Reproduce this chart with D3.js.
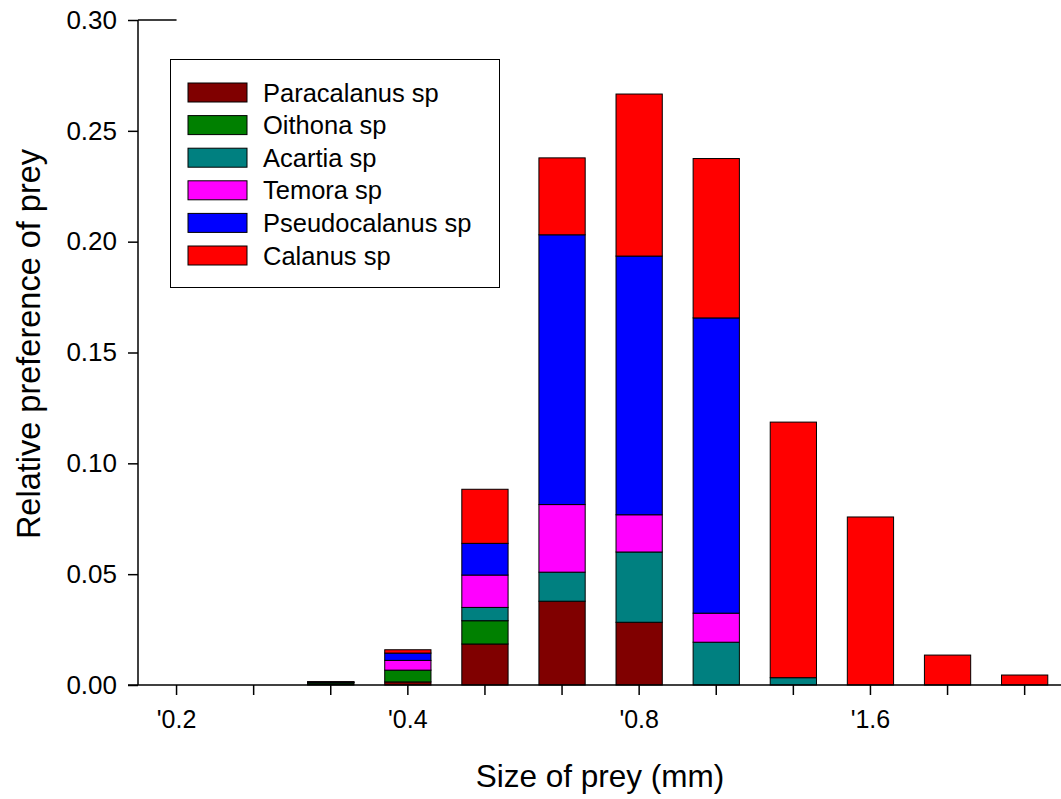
<!DOCTYPE html>
<html>
<head>
<meta charset="utf-8">
<script src="https://cdn.jsdelivr.net/npm/d3@7"></script>
<style>
  html, body { margin: 0; padding: 0; background: #fff; }
  svg { display: block; font-family: Arial, "Liberation Sans", Helvetica, sans-serif; }
</style>
</head>
<body>
<svg id="chart" width="1061" height="799"></svg>
<script>
// Prey size classes (mm), log2 spaced, three classes per doubling
const sizes = ["0.20", "0.25", "0.32", "0.40", "0.50", "0.63", "0.80", "1.0", "1.3", "1.6", "2.0", "2.5"];
const tickLabels = ["'0.2", "", "", "'0.4", "", "", "'0.8", "", "", "'1.6", "", ""];
const yTicks = [0, 0.05, 0.10, 0.15, 0.20, 0.25, 0.30];

const speciesNames = ["Paracalanus sp", "Oithona sp", "Acartia sp", "Temora sp", "Pseudocalanus sp", "Calanus sp"];
const speciesColors = ["#800000", "#008000", "#008080", "#ff00ff", "#0000ff", "#ff0000"];

// Relative preference of each prey genus per size class
const paracalanus   = [0, 0, 0.0004, 0.0014, 0.0185, 0.0378, 0.0283, 0,      0,      0,      0,      0];
const oithona       = [0, 0, 0.0006, 0.0053, 0.0105, 0,      0,      0,      0,      0,      0,      0];
const acartia       = [0, 0, 0.0001, 0,      0.0060, 0.0131, 0.0317, 0.0193, 0.0033, 0,      0,      0];
const temora        = [0, 0, 0.0002, 0.0044, 0.0146, 0.0305, 0.0168, 0.0131, 0,      0,      0,      0];
const pseudocalanus = [0, 0, 0.0001, 0.0033, 0.0143, 0.1217, 0.1167, 0.1332, 0,      0,      0,      0];
const calanus       = [0, 0, 0.0001, 0.0015, 0.0244, 0.0347, 0.0731, 0.0719, 0.1153, 0.0758, 0.0135, 0.0045];

const seriesValues = [paracalanus, oithona, acartia, temora, pseudocalanus, calanus];

const svg = d3.select("#chart");
const plotLeft = 138, plotRight = 1063.2, plotTop = 20, plotBottom = 685;

const x = d3.scaleBand().domain(sizes).range([plotLeft, plotRight]).paddingInner(0.4).paddingOuter(0.2);
const y = d3.scaleLinear().domain([0, 0.30]).range([plotBottom, plotTop]);

// Build rows for the stack
const rows = sizes.map((s, i) => {
  const r = { size: s };
  speciesNames.forEach((n, k) => { r[n] = seriesValues[k][i]; });
  return r;
});
const stacked = d3.stack().keys(speciesNames)(rows);

// Stacked bars
const layers = svg.append("g").selectAll("g")
  .data(stacked)
  .join("g")
  .attr("fill", (d, k) => speciesColors[k]);

layers.selectAll("rect")
  .data(d => d.filter(p => p[1] - p[0] > 0))
  .join("rect")
  .attr("x", p => x(p.data.size))
  .attr("width", x.bandwidth())
  .attr("y", p => y(p[1]))
  .attr("height", p => y(p[0]) - y(p[1]))
  .attr("stroke", "#000")
  .attr("stroke-width", 1);

// Y axis
const yAxis = svg.append("g")
  .attr("transform", `translate(${plotLeft},0)`)
  .call(d3.axisLeft(y).tickValues(yTicks).tickFormat(d3.format(".2f")).tickSize(10).tickPadding(11));
yAxis.select(".domain").attr("d", `M0,${plotTop}V${plotBottom}`).attr("stroke-width", 1.5);
yAxis.selectAll(".tick line").attr("stroke-width", 1.5);
yAxis.selectAll(".tick text").attr("font-size", 26).attr("font-family", "Arial, 'Liberation Sans', sans-serif").attr("fill", "#000");

// short rule at the top of the value axis
svg.append("line")
  .attr("x1", plotLeft).attr("x2", x(sizes[0]) + x.bandwidth() / 2)
  .attr("y1", y(0.30)).attr("y2", y(0.30))
  .attr("stroke", "#000").attr("stroke-width", 1.5);

// X axis
const xAxis = svg.append("g")
  .attr("transform", `translate(0,${plotBottom})`)
  .call(d3.axisBottom(x).tickFormat((d, i) => tickLabels[i]).tickSize(10).tickPadding(15));
xAxis.select(".domain").attr("d", `M${plotLeft - 10},0H1061`).attr("stroke-width", 1.5);
xAxis.selectAll(".tick line").attr("stroke-width", 1.5);
xAxis.selectAll(".tick text").attr("font-size", 25).attr("font-family", "Arial, 'Liberation Sans', sans-serif").attr("fill", "#000");

// Axis titles
svg.append("text")
  .attr("x", 600).attr("y", 787)
  .attr("text-anchor", "middle")
  .attr("font-size", 31.5)
  .text("Size of prey (mm)");

svg.append("text")
  .attr("transform", "translate(40,344) rotate(-90)")
  .attr("text-anchor", "middle")
  .attr("font-size", 32.5)
  .text("Relative preference of prey");

// Legend
const legend = svg.append("g");
legend.append("rect")
  .attr("x", 170.5).attr("y", 59.5).attr("width", 329).attr("height", 228)
  .attr("fill", "#fff").attr("stroke", "#000").attr("stroke-width", 1);

const items = legend.selectAll("g.item")
  .data(speciesNames)
  .join("g")
  .attr("class", "item")
  .attr("transform", (d, i) => `translate(0,${92.5 + i * 32.6})`);

items.append("rect")
  .attr("x", 188).attr("y", -9.5).attr("width", 59).attr("height", 19)
  .attr("fill", (d, i) => speciesColors[i])
  .attr("stroke", "#000").attr("stroke-width", 1);

items.append("text")
  .attr("x", 263).attr("y", 9)
  .attr("font-size", 25.5)
  .text(d => d);
</script>
</body>
</html>
